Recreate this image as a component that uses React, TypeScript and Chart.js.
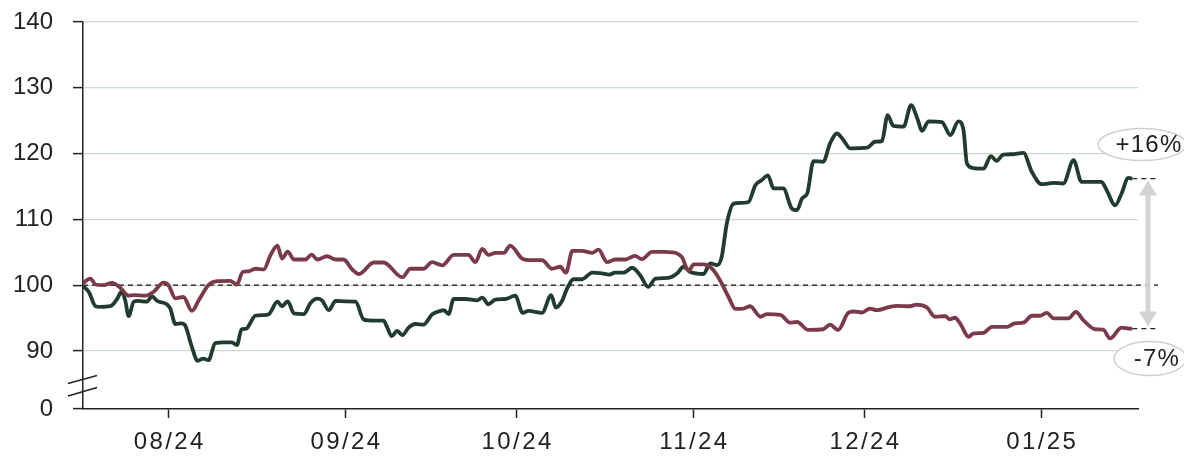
import React, { useEffect, useRef } from "react";
import { Chart, registerables } from "chart.js";

Chart.register(...registerables);

// x = days since 17 Jul 2024
const monthTickDays = [15, 46, 76, 107, 137, 168];
const monthTickLabels = ["08/24", "09/24", "10/24", "11/24", "12/24", "01/25"];
const yTickValues = [90, 100, 110, 120, 130, 140];
const yBreakValue = 81.18; // drawn as "0" below the axis break
const xMax = 185;

const greenDays = [0, 1.0, 2.2, 3.0, 4.8, 5.9, 6.8, 7.4, 8.0, 8.9, 9.7, 11.2, 12.1, 13.0, 14.7, 15.3, 16.2, 17.3, 17.9, 19.1, 20.1, 21.1, 22.0, 23.2, 24.6, 26.1, 27.0, 27.8, 28.7, 29.3, 30.2, 31.7, 32.6, 34.1, 34.9, 35.9, 37.0, 38.7, 39.9, 41.1, 41.9, 43.1, 44.3, 46.0, 47.8, 49.2, 51.0, 52.7, 53.3, 54.1, 55.1, 56.0, 57.1, 58.3, 59.7, 61.2, 62.7, 63.3, 64.1, 65.0, 67.1, 69.1, 70.0, 71.1, 72.3, 74.1, 75.8, 77.1, 78.1, 80.5, 82.1, 82.9, 84.0, 84.9, 86.0, 87.5, 89.3, 91.0, 92.2, 93.3, 94.8, 96.3, 97.7, 99.1, 100.4, 102.7, 104.2, 105.3, 106.5, 108.8, 110.0, 111.2, 112.0, 112.9, 114.1, 115.3, 116.7, 117.9, 119.0, 120.1, 121.1, 122.8, 124.3, 125.2, 126.1, 127.0, 128.1, 129.8, 131.0, 132.2, 133.4, 134.5, 137.5, 138.9, 140.1, 141.1, 142.1, 143.9, 145.2, 146.4, 147.1, 148.3, 150.6, 152.1, 153.5, 154.4, 155.0, 156.1, 157.9, 159.2, 160.2, 161.4, 162.9, 164.9, 166.4, 168.1, 170.2, 171.9, 173.7, 175.1, 178.6, 179.5, 181.0, 182.1, 183.3, 184.0];
const greenValues = [99.85, 99.0, 96.8, 96.7, 96.8, 97.8, 99.0, 97.7, 95.3, 97.5, 97.6, 97.5, 98.3, 97.6, 97.1, 96.45, 94.1, 94.2, 93.9, 90.6, 88.5, 88.85, 88.6, 91.2, 91.3, 91.3, 90.9, 93.3, 93.4, 94.2, 95.35, 95.45, 95.6, 97.5, 96.8, 97.55, 95.7, 95.6, 97.3, 97.95, 97.7, 96.2, 97.6, 97.55, 97.5, 94.8, 94.6, 94.6, 93.7, 92.25, 93.05, 92.4, 93.55, 94.1, 94.0, 95.55, 96.1, 96.2, 95.6, 97.9, 97.9, 97.7, 98.1, 97.1, 97.8, 97.9, 98.4, 95.8, 96.1, 95.8, 98.5, 96.6, 97.6, 99.5, 100.9, 100.9, 101.9, 101.8, 101.6, 101.9, 101.9, 102.65, 101.5, 99.75, 101.0, 101.1, 101.8, 102.8, 102.0, 101.7, 103.3, 103.05, 104.3, 109.4, 112.4, 112.5, 112.65, 115.2, 115.95, 116.7, 114.7, 114.7, 111.65, 111.4, 113.2, 113.95, 118.85, 118.75, 121.55, 123.05, 122.0, 120.8, 120.9, 121.8, 121.9, 125.85, 124.2, 124.1, 127.35, 125.1, 123.45, 124.9, 124.8, 122.8, 124.9, 123.55, 118.5, 117.8, 117.7, 119.6, 118.9, 119.85, 119.9, 120.1, 117.2, 115.35, 115.55, 115.45, 119.0, 115.7, 115.7, 114.45, 112.15, 113.9, 116.3, 116.2];

const redDays = [0, 1.3, 2.2, 3.6, 5.1, 6.5, 8.0, 8.9, 10.9, 12.4, 14.1, 15.0, 16.2, 17.6, 19.1, 20.3, 22.0, 23.5, 25.8, 27.0, 28.0, 29.0, 30.2, 31.7, 32.9, 34.1, 34.9, 35.9, 37.0, 39.0, 40.1, 41.1, 42.8, 44.3, 45.7, 47.2, 48.4, 51.0, 52.7, 56.0, 57.4, 59.7, 61.2, 63.0, 65.0, 67.6, 68.8, 70.0, 71.1, 72.3, 73.8, 74.9, 77.0, 78.4, 80.5, 82.2, 83.7, 84.7, 85.8, 87.5, 89.3, 90.4, 91.9, 93.3, 95.1, 96.8, 98.0, 99.8, 102.1, 104.2, 105.0, 106.2, 107.1, 108.8, 110.3, 111.7, 113.2, 114.4, 115.8, 117.0, 118.8, 119.9, 122.3, 124.0, 125.2, 127.2, 129.8, 131.0, 132.4, 134.2, 135.1, 136.6, 138.0, 139.2, 141.5, 142.7, 145.0, 146.2, 148.0, 149.4, 151.2, 152.0, 152.9, 153.8, 155.3, 156.1, 157.9, 159.4, 162.0, 163.4, 164.9, 166.4, 167.8, 169.0, 170.2, 172.8, 174.1, 175.4, 177.5, 178.9, 180.1, 182.1, 183.6, 184.0];
const redValues = [100.3, 101.0, 100.1, 100.0, 100.35, 99.65, 98.4, 98.5, 98.4, 99.0, 100.4, 100.0, 98.0, 98.2, 96.1, 97.7, 100.0, 100.6, 100.65, 100.1, 102.0, 102.1, 102.5, 102.4, 104.6, 106.0, 104.05, 105.1, 103.9, 103.9, 104.65, 103.9, 104.4, 103.9, 103.9, 102.4, 101.7, 103.45, 103.45, 101.2, 102.5, 102.5, 103.5, 103.0, 104.6, 104.6, 103.5, 105.5, 104.6, 104.9, 104.9, 106.0, 104.05, 103.8, 103.8, 102.5, 102.8, 101.9, 105.2, 105.2, 104.9, 105.4, 103.5, 103.9, 103.9, 104.45, 103.95, 105.05, 105.05, 104.8, 104.3, 102.2, 103.15, 103.15, 102.5, 100.75, 98.2, 96.4, 96.45, 96.8, 95.2, 95.6, 95.5, 94.3, 94.4, 93.2, 93.3, 94.0, 93.2, 95.8, 96.0, 95.85, 96.45, 96.2, 96.7, 96.85, 96.8, 97.05, 96.6, 95.2, 95.3, 94.8, 95.05, 94.2, 92.15, 92.65, 92.75, 93.65, 93.65, 94.2, 94.3, 95.35, 95.35, 95.8, 94.95, 94.95, 95.95, 94.7, 93.3, 93.25, 91.9, 93.55, 93.4, 93.4];

const greenLabel = "+16%";
const redLabel = "-7%";

const GREEN = "#213b2f";
const RED = "#7a3a49";
const TEXT = "#222222";
const GRID = "#c8dbc8";
const FONT = '"Liberation Sans", Arial, Helvetica, sans-serif';

const annotationPlugin = {
  id: "annot",
  beforeDatasetsDraw(chart: any) {
    const { ctx, chartArea, scales } = chart;
    const y = scales.y.getPixelForValue(100);
    ctx.save();
    ctx.strokeStyle = "#111";
    ctx.lineWidth = 1.3;
    ctx.setLineDash([5, 4]);
    ctx.beginPath();
    ctx.moveTo(chartArea.left, y);
    ctx.lineTo(chartArea.right + 20, y);
    ctx.stroke();
    ctx.restore();
  },
  afterDraw(chart: any) {
    const { ctx, chartArea, scales } = chart;
    const xs = scales.x;
    const ys = scales.y;
    const gEnd = greenValues[greenValues.length - 1];
    const rEnd = redValues[redValues.length - 1];
    const endX = xs.getPixelForValue(greenDays[greenDays.length - 1]);
    const gy = ys.getPixelForValue(gEnd);
    const ry = ys.getPixelForValue(rEnd);
    ctx.save();
    // month labels
    ctx.fillStyle = TEXT;
    ctx.font = `24px ${FONT}`;
    (ctx as any).letterSpacing = "2.4px";
    ctx.textAlign = "center";
    ctx.textBaseline = "middle";
    monthTickDays.forEach((d, i) => {
      ctx.fillText(monthTickLabels[i], xs.getPixelForValue(d) + 1.2, chartArea.bottom + 33);
    });
    (ctx as any).letterSpacing = "0px";
    // end dashes
    ctx.strokeStyle = "#222";
    ctx.lineWidth = 1.2;
    ctx.setLineDash([5, 4]);
    ctx.beginPath();
    ctx.moveTo(endX, gy);
    ctx.lineTo(chartArea.right + 20, gy);
    ctx.moveTo(endX, ry);
    ctx.lineTo(chartArea.right + 20, ry);
    ctx.stroke();
    ctx.setLineDash([]);
    // arrow
    const ax = chartArea.right + 10;
    ctx.strokeStyle = "#d4d4d4";
    ctx.fillStyle = "#d4d4d4";
    ctx.lineWidth = 5;
    ctx.beginPath();
    ctx.moveTo(ax, gy + 12);
    ctx.lineTo(ax, ry - 12);
    ctx.stroke();
    ctx.beginPath();
    ctx.moveTo(ax, gy + 2);
    ctx.lineTo(ax - 9, gy + 17);
    ctx.lineTo(ax + 9, gy + 17);
    ctx.closePath();
    ctx.fill();
    ctx.beginPath();
    ctx.moveTo(ax, ry - 2);
    ctx.lineTo(ax - 9, ry - 17);
    ctx.lineTo(ax + 9, ry - 17);
    ctx.closePath();
    ctx.fill();
    // ellipses with labels
    const drawBadge = (cx: number, cy: number, rx: number, ry2: number, text: string) => {
      ctx.beginPath();
      ctx.ellipse(cx, cy, rx, ry2, 0, 0, Math.PI * 2);
      ctx.fillStyle = "#ffffff";
      ctx.fill();
      ctx.strokeStyle = "#cfcfcf";
      ctx.lineWidth = 1.5;
      ctx.stroke();
      ctx.fillStyle = TEXT;
      ctx.font = `24px ${FONT}`;
      (ctx as any).letterSpacing = "1.2px";
      ctx.textAlign = "center";
      ctx.textBaseline = "middle";
      ctx.fillText(text, cx + 7, cy + 1);
      (ctx as any).letterSpacing = "0px";
    };
    drawBadge(chartArea.right + 4, gy - 34, 44, 16, greenLabel);
    drawBadge(chartArea.right + 12, ry + 30, 36, 17, redLabel);
    // axis break marks
    const ax0 = chartArea.left;
    const yb = chartArea.bottom;
    ctx.strokeStyle = "#222";
    ctx.lineWidth = 1.5;
    ctx.beginPath();
    ctx.moveTo(ax0 - 15, yb - 25.5);
    ctx.lineTo(ax0 + 14, yb - 33.5);
    ctx.moveTo(ax0 - 15, yb - 13);
    ctx.lineTo(ax0 + 14, yb - 21.5);
    ctx.stroke();
    ctx.restore();
  },
};

export default function App() {
  const canvasRef = useRef<HTMLCanvasElement | null>(null);

  useEffect(() => {
    document.body.style.margin = "0";
    const canvas = canvasRef.current;
    if (!canvas) return;
    const green = greenDays.map((d, i) => ({ x: d, y: greenValues[i] }));
    const red = redDays.map((d, i) => ({ x: d, y: redValues[i] }));
    const chart = new Chart(canvas, {
      type: "line",
      data: {
        datasets: [
          {
            data: red,
            borderColor: RED,
            borderWidth: 3.8,
            pointRadius: 0,
            cubicInterpolationMode: "monotone",
            fill: false,
          },
          {
            data: green,
            borderColor: GREEN,
            borderWidth: 3.8,
            pointRadius: 0,
            cubicInterpolationMode: "monotone",
            fill: false,
          },
        ],
      },
      options: {
        responsive: false,
        animation: false,
        layout: { padding: { top: 22, right: 46, bottom: 0, left: 0 } },
        plugins: {
          legend: { display: false },
          tooltip: { enabled: false },
        },
        scales: {
          x: {
            type: "linear",
            min: 0,
            max: xMax,
            afterFit: (s: any) => {
              s.height = 48;
              s.paddingLeft = 0;
              s.paddingRight = 0;
            },
            afterBuildTicks: (s: any) => {
              s.ticks = monthTickDays.map((v) => ({ value: v }));
            },
            grid: {
              drawOnChartArea: false,
              drawTicks: true,
              tickLength: 9,
              tickColor: TEXT,
              tickWidth: 1.5,
            },
            border: { color: TEXT, width: 1.5 },
            ticks: {
              display: false,
            },
          },
          y: {
            type: "linear",
            min: yBreakValue,
            max: 140,
            afterFit: (s: any) => {
              s.width = 83;
              s.paddingTop = 0;
              s.paddingBottom = 0;
            },
            afterBuildTicks: (s: any) => {
              s.ticks = [yBreakValue, ...yTickValues].map((v) => ({ value: v }));
            },
            grid: {
              color: (c: any) => (c.tick && c.tick.value < 85 ? "rgba(0,0,0,0)" : GRID),
              lineWidth: 1.2,
              drawTicks: true,
              tickLength: 10,
              tickColor: TEXT,
              tickWidth: 1.5,
            },
            border: { color: TEXT, width: 1.5 },
            ticks: {
              autoSkip: false,
              padding: 20,
              color: TEXT,
              font: { family: FONT, size: 24 },
              callback: (v: any) => (Number(v) < 85 ? "0" : String(v)),
            },
          },
        },
      },
      plugins: [annotationPlugin],
    } as any);
    return () => chart.destroy();
  }, []);

  return (
    <div style={{ width: 1184, height: 457 }}>
      <canvas ref={canvasRef} width={1184} height={457} style={{ display: "block" }} />
    </div>
  );
}
